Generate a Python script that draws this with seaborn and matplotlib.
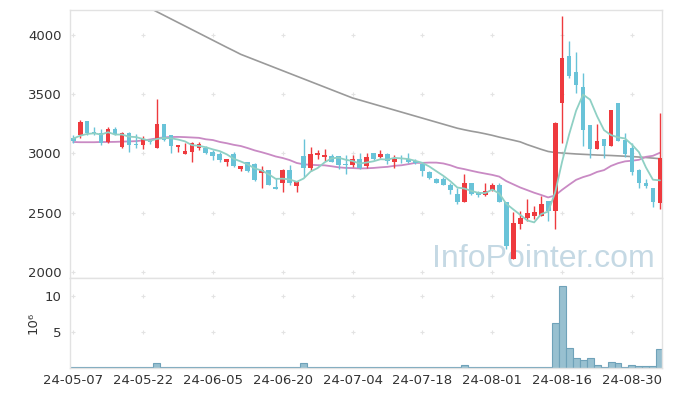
import numpy as np
import pandas as pd
import seaborn as sns
import matplotlib
matplotlib.use("Agg")
import matplotlib.pyplot as plt

# daily candles, 24-05-07 .. 24-09-05
opens = [3134, 3154, 3272, 3182, 3170, 3097, 3204, 3058, 3170, 3083,
         3075, 3106, 3047, 3246, 3154, 3055, 2996, 3013, 3050, 3047,
         3014, 2994, 2930, 2994, 2868, 2924, 2910, 2834, 2860, 2717,
         2747, 2860, 2728, 2975, 2880, 2989, 2972, 2975, 2975, 2913,
         2905, 2952, 2895, 3002, 2974, 2994, 2929, 2957, 2957, 2938,
         2909, 2845, 2789, 2783, 2733, 2657, 2587, 2750, 2676, 2648,
         2693, 2733, 2587, 2110, 2404, 2452, 2469, 2474, 2601, 2517,
         3423, 3822, 3687, 3564, 3238, 3041, 3120, 3064, 3423, 3114,
         3044, 2862, 2755, 2705, 2581]
highs = [3156, 3280, 3272, 3224, 3210, 3227, 3227, 3184, 3182, 3168,
         3148, 3126, 3457, 3246, 3154, 3069, 3092, 3100, 3100, 3060,
         3031, 3009, 2952, 3009, 2896, 2932, 2916, 2891, 2860, 2790,
         2868, 2902, 2761, 3126, 3051, 3031, 3037, 2994, 2975, 2986,
         2985, 3002, 3002, 3002, 3027, 3002, 2985, 2985, 3002, 2957,
         2918, 2853, 2797, 2803, 2755, 2705, 2831, 2755, 2685, 2755,
         2755, 2755, 2587, 2503, 2517, 2620, 2559, 2643, 2601, 3266,
         4159, 3948, 3855, 3676, 3238, 3246, 3120, 3364, 3423, 3176,
         3092, 2866, 2783, 2713, 3339]
lows = [3092, 3134, 3154, 3154, 3075, 3092, 3154, 3050, 3013, 3050,
        3041, 3078, 3047, 3106, 3008, 3013, 2996, 2927, 3030, 2995,
        2944, 2924, 2896, 2882, 2854, 2848, 2770, 2705, 2733, 2700,
        2677, 2736, 2672, 2798, 2854, 2952, 2938, 2924, 2868, 2826,
        2890, 2867, 2881, 2946, 2966, 2910, 2881, 2918, 2918, 2910,
        2811, 2789, 2747, 2735, 2662, 2573, 2587, 2648, 2629, 2642,
        2685, 2587, 2194, 2110, 2362, 2432, 2446, 2474, 2432, 2362,
        3086, 3639, 3513, 3064, 2966, 3041, 2966, 3064, 3106, 2974,
        2817, 2705, 2705, 2545, 2536]
closes = [3106, 3266, 3170, 3165, 3092, 3204, 3168, 3170, 3075, 3075,
          3120, 3097, 3246, 3114, 3064, 3069, 3019, 3087, 3084, 3003,
          2980, 2944, 2952, 2896, 2891, 2854, 2778, 2863, 2736, 2700,
          2860, 2747, 2761, 2877, 2994, 3006, 2989, 2930, 2905, 2907,
          2952, 2881, 2974, 2957, 2994, 2938, 2952, 2952, 2929, 2918,
          2853, 2797, 2755, 2735, 2691, 2587, 2755, 2657, 2648, 2685,
          2733, 2592, 2222, 2413, 2455, 2497, 2508, 2573, 2517, 3255,
          3802, 3653, 3575, 3199, 3042, 3106, 3064, 3364, 3106, 2994,
          2845, 2747, 2722, 2587, 2966]

# volume in millions
volume = [0.03, 0.1, 0.03, 0.03, 0.03, 0.03, 0.03, 0.03, 0.03, 0.03,
          0.03, 0.03, 0.56, 0.1, 0.03, 0.03, 0.03, 0.03, 0.03, 0.03,
          0.03, 0.03, 0.03, 0.03, 0.03, 0.03, 0.03, 0.03, 0.03, 0.03,
          0.1, 0.03, 0.1, 0.56, 0.1, 0.03, 0.03, 0.03, 0.03, 0.03,
          0.03, 0.03, 0.03, 0.03, 0.03, 0.03, 0.03, 0.03, 0.03, 0.03,
          0.03, 0.03, 0.03, 0.03, 0.03, 0.03, 0.33, 0.03, 0.03, 0.03,
          0.03, 0.03, 0.1, 0.1, 0.03, 0.1, 0.03, 0.03, 0.03, 6.25,
          11.35, 2.65, 1.3, 1.02, 1.26, 0.33, 0.1, 0.74, 0.6, 0.1,
          0.3, 0.15, 0.15, 0.15, 2.56]

# moving averages that need data before the visible window
ma5_start = [3125, 3150, 3165, 3170]
ma20_start = [3097, 3095, 3095, 3095, 3097, 3097, 3098, 3100, 3102, 3104,
              3110, 3118, 3128, 3136, 3139, 3140, 3138, 3135, 3132]
ma120 = [4560, 4530, 4500, 4470, 4440, 4410, 4380, 4350, 4320, 4290,
         4260, 4225, 4195, 4165, 4135, 4105, 4075, 4045, 4015, 3985,
         3955, 3925, 3895, 3866, 3836, 3813, 3790, 3767, 3744, 3721,
         3698, 3675, 3652, 3629, 3606, 3583, 3560, 3537, 3514, 3491,
         3468, 3451, 3434, 3417, 3400, 3383, 3366, 3349, 3332, 3315,
         3298, 3281, 3264, 3247, 3230, 3213, 3200, 3188, 3178, 3166,
         3153, 3138, 3125, 3112, 3098, 3075, 3055, 3035, 3017, 3008,
         3004, 3000, 2996, 2993, 2990, 2987, 2985, 2983, 2980, 2977,
         2974, 2970, 2966, 2961, 2956]

tick_labels = ["24-05-07", "24-05-22", "24-06-05", "24-06-20", "24-07-04",
               "24-07-18", "24-08-01", "24-08-16", "24-08-30"]

UP = "#ee3a3e"
DOWN = "#69c3d8"
GRID = "#e3e3e3"


def main():
    sns.set_style("white")
    plt.rcParams["font.family"] = ["DejaVu Sans"]

    df = pd.DataFrame({"open": opens, "high": highs, "low": lows,
                       "close": closes, "volume": volume})
    df["idx"] = np.arange(len(df))
    ma5 = df["close"].rolling(5).mean()
    ma5.iloc[:4] = ma5_start
    ma20 = df["close"].rolling(20).mean()
    ma20.iloc[:19] = ma20_start
    df["ma5"] = ma5
    df["ma20"] = ma20
    df["ma120"] = ma120

    fig = plt.figure(figsize=(6.73, 3.96), dpi=100)
    ax = fig.add_axes([70 / 673, 1 - 278 / 396, 592 / 673, 268 / 396])
    axv = fig.add_axes([70 / 673, 1 - 367.5 / 396, 592 / 673, 89.5 / 396])

    xlim = (-0.45, 84.3)
    xt = np.arange(0, 81, 10)

    # grid crosses
    for a, yt in [(ax, np.arange(2000, 4001, 500)), (axv, [5, 10])]:
        gx, gy = np.meshgrid(xt, yt)
        a.scatter(gx.ravel(), gy.ravel(), marker="+", s=10, color=GRID,
                  linewidths=0.8, zorder=0)

    # moving averages
    sns.lineplot(data=df, x="idx", y="ma120", ax=ax, color="#9a9a9a", lw=1.2, zorder=2)
    sns.lineplot(data=df, x="idx", y="ma20", ax=ax, color="#c98ac4", lw=1.3, zorder=2)
    sns.lineplot(data=df, x="idx", y="ma5", ax=ax, color="#8fd0c4", lw=1.3, zorder=4)

    # candles
    up = df["close"] >= df["open"]
    colors = np.where(up, UP, DOWN)
    ax.vlines(df["idx"], df["low"], df["high"], colors=colors, lw=1.0, zorder=3)
    body_lo = df[["open", "close"]].min(axis=1)
    body_h = (df["close"] - df["open"]).abs().clip(lower=8)
    ax.bar(df["idx"], body_h, bottom=body_lo, width=0.68, color=colors,
           linewidth=0, zorder=3)

    ax.text(0.988, 0.04, "InfoPointer.com", transform=ax.transAxes,
            ha="right", va="baseline", fontsize=23, color="#c5d9e4",
            family="Liberation Sans", zorder=1)

    ax.set_xlim(*xlim)
    ax.set_ylim(1950, 4210)
    ax.set_yticks(np.arange(2000, 4001, 500))
    ax.set_xticks(xt)
    ax.set_xticklabels([])
    ax.set_xlabel("")
    ax.set_ylabel("")

    # volume
    sns.barplot(data=df, x="idx", y="volume", ax=axv, native_scale=True,
                width=1.0, color="#98c0d0", edgecolor="#6fa2b9",
                linewidth=0.8, saturation=1, zorder=2)
    axv.set_xlim(*xlim)
    axv.set_ylim(0, 12.45)
    axv.set_yticks([5, 10])
    axv.set_xticks(xt)
    axv.set_xticklabels(tick_labels)
    axv.set_xlabel("")
    axv.set_ylabel("10\u2076", fontsize=9.5, color="#333333", labelpad=4)

    for a in (ax, axv):
        a.tick_params(length=0, labelsize=9.5, labelcolor="#333333", pad=6)
        for s in a.spines.values():
            s.set_color("#e2e2e2")
            s.set_linewidth(1.0)
    axv.tick_params(axis="x", pad=5)

    fig.savefig("out.png", dpi=100)


if __name__ == "__main__":
    main()
